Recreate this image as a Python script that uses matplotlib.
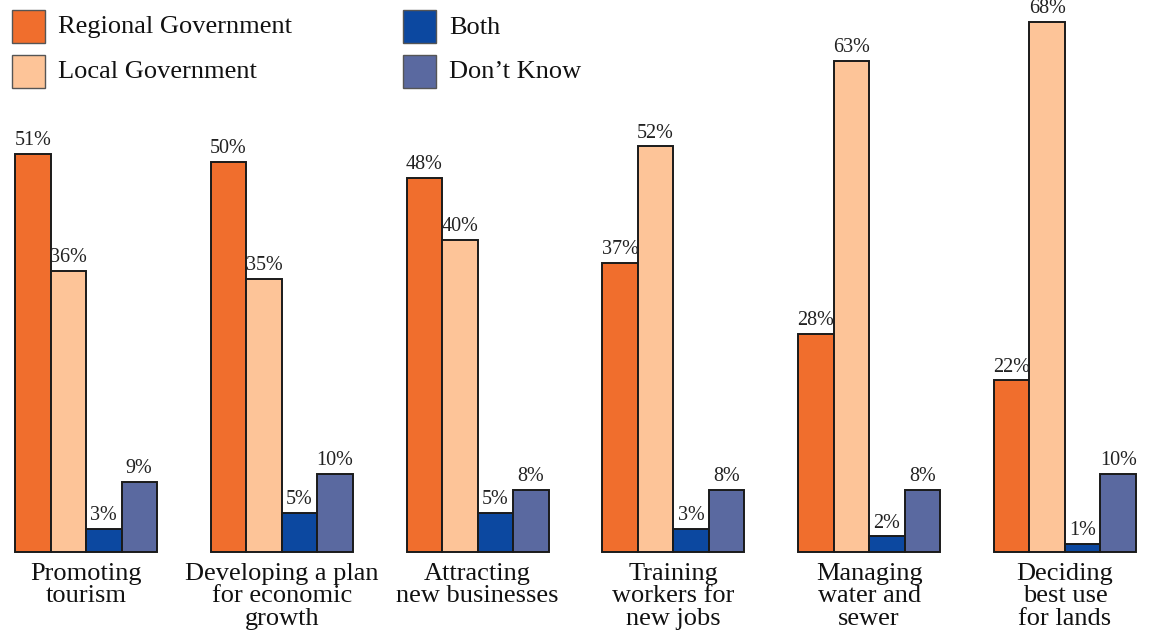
import matplotlib.pyplot as plt
import numpy as np
from matplotlib.patches import Rectangle

plt.rcParams["font.family"] = ["Liberation Serif", "DejaVu Serif"]

categories = [
    "Promoting\ntourism",
    "Developing a plan\nfor economic\ngrowth",
    "Attracting\nnew businesses",
    "Training\nworkers for\nnew jobs",
    "Managing\nwater and\nsewer",
    "Deciding\nbest use\nfor lands",
]
series_names = ["Regional Government", "Local Government", "Both", "Don\u2019t Know"]
regional = [51, 50, 48, 37, 28, 22]
local = [36, 35, 40, 52, 63, 68]
both = [3, 5, 5, 3, 2, 1]
dont_know = [9, 10, 8, 8, 8, 10]

colors = ["#F06E2D", "#FDC498", "#0C48A0", "#5A69A0"]

W, H = 1149, 635
fig = plt.figure(figsize=(W / 100, H / 100), dpi=100)

# axes spans full width; baseline at y=552 px, 7.8 px per percent
base_px = 552
ppp = 7.8
top_val = base_px / ppp
ax = fig.add_axes([0, (H - base_px) / H, 1, base_px / H])

bar_w = 1.0
spacing = 5.515
centers = np.arange(len(categories)) * spacing
offsets = np.array([-1.5, -0.5, 0.5, 1.5]) * bar_w

first_center_px = 86
unit_px = 35.5
ax.set_xlim(-first_center_px / unit_px, (W - first_center_px) / unit_px)
ax.set_ylim(0, top_val)

all_series = [regional, local, both, dont_know]
for vals, off, col in zip(all_series, offsets, colors):
    bars = ax.bar(centers + off, vals, width=bar_w, color=col,
                  edgecolor="#1a1a1a", linewidth=1.4, clip_on=False)
    for b, v in zip(bars, vals):
        ax.text(b.get_x() + b.get_width() / 2, v + 0.5, f"{v}%",
                ha="center", va="bottom", fontsize=14.5, color="#222222")

ax.set_xticks(centers)
ax.set_xticklabels(categories, fontsize=19, linespacing=1.02, color="#111111")
ax.tick_params(axis="x", length=0, pad=8)
ax.set_yticks([])
for s in ax.spines.values():
    s.set_visible(False)

# legend drawn in pixel positions
leg_pos = [(12, 10), (12, 55), (403, 10), (403, 55)]
box = 33
for (lx, ly), name, col in zip(leg_pos, series_names, colors):
    fig.patches.append(Rectangle((lx / W, 1 - (ly + box) / H), box / W, box / H,
                                 transform=fig.transFigure, facecolor=col,
                                 edgecolor="#555555", linewidth=1.0))
    fig.text((lx + box + 13) / W, 1 - (ly + box / 2 + 1) / H, name,
             fontsize=19, va="center", ha="left", color="#111111")

fig.savefig("out.png", dpi=100)
